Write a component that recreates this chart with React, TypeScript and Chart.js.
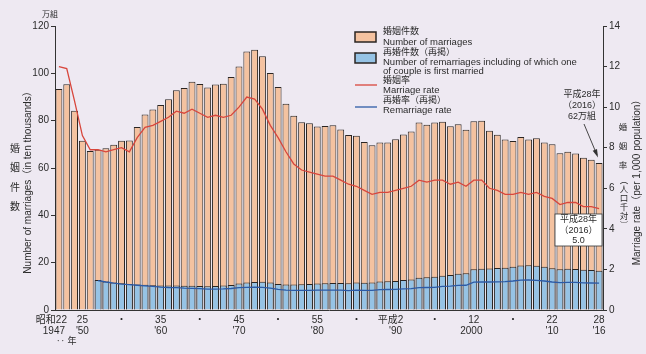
import React, { useEffect, useRef } from "react";
import { Chart, registerables } from "chart.js";

Chart.register(...registerables);

const FONT = "'Liberation Sans', 'Noto Sans CJK JP', sans-serif";

const years = [
  1947, 1948, 1949, 1950, 1951, 1952, 1953, 1954, 1955, 1956,
  1957, 1958, 1959, 1960, 1961, 1962, 1963, 1964, 1965, 1966,
  1967, 1968, 1969, 1970, 1971, 1972, 1973, 1974, 1975, 1976,
  1977, 1978, 1979, 1980, 1981, 1982, 1983, 1984, 1985, 1986,
  1987, 1988, 1989, 1990, 1991, 1992, 1993, 1994, 1995, 1996,
  1997, 1998, 1999, 2000, 2001, 2002, 2003, 2004, 2005, 2006,
  2007, 2008, 2009, 2010, 2011, 2012, 2013, 2014, 2015, 2016,
];

// 婚姻件数 (万組)
const marriages = [
  93.4, 95.4, 84.2, 71.5, 67.2, 67.7, 68.3, 69.8, 71.5, 71.6,
  77.3, 82.6, 84.7, 86.6, 89.0, 92.9, 93.8, 96.4, 95.5, 94.0,
  95.3, 95.6, 98.4, 102.9, 109.2, 110.0, 107.2, 100.1, 94.2, 87.2,
  82.1, 79.3, 78.9, 77.5, 77.7, 78.1, 76.3, 73.9, 73.6, 71.0,
  69.6, 70.8, 70.8, 72.2, 74.2, 75.4, 79.2, 78.3, 79.2, 79.5,
  77.6, 78.5, 76.2, 79.8, 80.0, 75.7, 74.0, 72.0, 71.4, 73.1,
  72.0, 72.6, 70.8, 70.0, 66.2, 66.9, 66.1, 64.3, 63.5, 62.1,
];

// 再婚件数（再掲） (万組), from 1952
const remarriages = [
  null, null, null, null, null,
  12.7, 12.0, 11.6, 11.3, 11.0, 10.8, 10.7, 10.5, 10.4, 10.3,
  10.3, 10.2, 10.2, 10.1, 10.0, 10.1, 10.3, 10.6, 11.2, 11.6,
  11.8, 11.9, 11.6, 11.0, 10.8, 10.8, 10.9, 11.0, 11.2, 11.3,
  11.4, 11.4, 11.3, 11.6, 11.5, 11.6, 12.0, 12.2, 12.3, 12.7,
  12.9, 13.6, 13.8, 14.0, 14.5, 14.8, 15.3, 15.5,
  17.2, 17.4, 17.5, 17.7, 17.8, 18.3, 18.8, 18.9, 18.7, 18.3,
  17.6, 17.2, 17.4, 17.3, 17.0, 16.9, 16.6,
];

// 婚姻率 (人口千対)
const marriageRate = [
  12.0, 11.9, 10.3, 8.6, 7.9, 7.9, 7.8, 7.9, 8.0, 7.8,
  8.5, 9.0, 9.1, 9.3, 9.5, 9.8, 9.7, 9.9, 9.7, 9.5,
  9.6, 9.5, 9.6, 10.0, 10.5, 10.4, 9.9, 9.1, 8.5, 7.8,
  7.2, 6.9, 6.8, 6.7, 6.6, 6.6, 6.4, 6.2, 6.1, 5.9,
  5.7, 5.8, 5.8, 5.9, 6.0, 6.1, 6.4, 6.3, 6.4, 6.4,
  6.2, 6.3, 6.1, 6.4, 6.4, 6.0, 5.9, 5.7, 5.7, 5.8,
  5.7, 5.8, 5.6, 5.5, 5.2, 5.3, 5.3, 5.1, 5.1, 5.0,
];

// 再婚率（再掲） (人口千対), from 1952
const remarriageRate = [
  null, null, null, null, null,
  1.45, 1.38, 1.32, 1.28, 1.25, 1.22, 1.19, 1.16, 1.13, 1.11,
  1.10, 1.08, 1.07, 1.05, 1.03, 1.03, 1.04, 1.06, 1.10, 1.12,
  1.13, 1.12, 1.08, 1.02, 0.98, 0.97, 0.97, 0.97, 0.98, 0.98,
  0.98, 0.98, 0.96, 0.98, 0.97, 0.97, 1.00, 1.01, 1.02, 1.04,
  1.05, 1.10, 1.11, 1.12, 1.16, 1.18, 1.21, 1.22,
  1.37, 1.38, 1.38, 1.39, 1.40, 1.43, 1.47, 1.48, 1.46, 1.43,
  1.38, 1.35, 1.36, 1.36, 1.34, 1.33, 1.32,
];

const SP = "\u2002";
const xLabelTop: Record<number, string> = {
  1947: "昭和22" + SP + SP + SP, 1950: "25", 1955: "・", 1960: "35", 1965: "・", 1970: "45",
  1975: "・", 1980: "55", 1985: "・", 1990: "平成2" + SP + SP, 1995: "・", 2000: "12",
  2005: "・", 2010: "22", 2016: "28",
};
const xLabelBottom: Record<number, string> = {
  1947: "1947" + SP + SP, 1950: "'50", 1960: "'60", 1970: "'70", 1980: "'80",
  1990: "'90", 2000: "2000" + SP, 2010: "'10", 2016: "'16",
};

const BG = "#EEE9F2";
const ORANGE = "#F4C2A0";
const BLUE = "#96C3E5";
const RED = "#D8463C";
const NAVY = "#2D5BA6";
const DARK = "#2a2522";
const TEXT = "#2b2b2b";

const bgPlugin = {
  id: "bg",
  beforeDraw(chart: any) {
    const ctx = chart.ctx;
    ctx.save();
    ctx.fillStyle = BG;
    ctx.fillRect(0, 0, chart.width, chart.height);
    ctx.restore();
  },
};

const overlayPlugin = {
  id: "overlay",
  afterDraw(chart: any) {
    const ctx = chart.ctx as CanvasRenderingContext2D;
    const f = (s: number, w = "normal") => `${w} ${s}px ${FONT}`;
    ctx.save();
    ctx.fillStyle = TEXT;
    ctx.textBaseline = "middle";

    // --- legend ---
    const lx = 355, tx = 383;
    ctx.fillStyle = ORANGE;
    ctx.fillRect(lx, 32, 21, 10);
    ctx.strokeStyle = DARK;
    ctx.lineWidth = 1.5;
    ctx.strokeRect(lx, 32, 21, 10);
    ctx.fillStyle = BLUE;
    ctx.fillRect(lx, 53, 21, 10);
    ctx.strokeRect(lx, 53, 21, 10);
    ctx.lineWidth = 1.3;
    ctx.strokeStyle = RED;
    ctx.beginPath(); ctx.moveTo(lx, 85); ctx.lineTo(lx + 22, 85); ctx.stroke();
    ctx.strokeStyle = NAVY;
    ctx.beginPath(); ctx.moveTo(lx, 107); ctx.lineTo(lx + 22, 107); ctx.stroke();

    ctx.fillStyle = TEXT;
    ctx.textAlign = "left";
    const legendText: [string, number][] = [
      ["婚姻件数", 32],
      ["Number of marriages", 42],
      ["再婚件数（再掲）", 53],
      ["Number of remarriages including of which one", 62.5],
      ["of couple is first married", 71.5],
      ["婚姻率", 81],
      ["Marriage rate", 90.5],
      ["再婚率（再掲）", 101],
      ["Remarriage rate", 110.5],
    ];
    for (const [t, y] of legendText) {
      const cjk = /[^\x00-\x7F]/.test(t);
      ctx.font = cjk ? f(9) : f(9.5);
      ctx.fillText(t, tx, y);
    }

    // --- left axis title ---
    ctx.textAlign = "center";
    ctx.font = f(10);
    const leftChars: [string, number][] = [["婚", 149], ["姻", 168], ["件", 188], ["数", 207]];
    for (const [c, y] of leftChars) ctx.fillText(c, 15, y);
    ctx.save();
    ctx.translate(28, 180);
    ctx.rotate(-Math.PI / 2);
    ctx.font = f(10);
    ctx.fillText("Number of marriages（in ten thousands）", 0, 0);
    ctx.restore();
    ctx.font = f(8);
    ctx.fillText("万組", 50, 15);

    // --- right axis title ---
    const rightChars: [string, number, number][] = [
      ["婚", 623, 128], ["姻", 623, 147], ["率", 623, 166],
      ["︵", 624, 181], ["人", 624, 190], ["口", 624, 199],
      ["千", 624, 208], ["対", 624, 217], ["︶", 624, 226],
    ];
    ctx.font = f(8.5);
    for (const [c, x, y] of rightChars) ctx.fillText(c, x, y);
    ctx.save();
    ctx.translate(637, 180);
    ctx.rotate(-Math.PI / 2);
    ctx.font = f(10);
    ctx.fillText("Marriage rate（per 1,000 population）", 0, 0);
    ctx.restore();

    // --- x "‥年" ---
    ctx.font = f(9);
    ctx.textAlign = "left";
    ctx.fillText("‥ 年", 56, 342);

    // --- annotation 62万組 ---
    ctx.textAlign = "center";
    ctx.font = f(9);
    ctx.fillText("平成28年", 582, 95);
    ctx.fillText("（2016）", 582, 106);
    ctx.fillText("62万組", 582, 117);
    ctx.strokeStyle = "#333";
    ctx.lineWidth = 0.9;
    const x0 = 584, y0 = 124, x1 = 597, y1 = 155;
    ctx.beginPath(); ctx.moveTo(x0, y0); ctx.lineTo(x1, y1); ctx.stroke();
    const ang = Math.atan2(y1 - y0, x1 - x0);
    ctx.fillStyle = "#333";
    ctx.beginPath();
    ctx.moveTo(x1 + 1, y1 + 2.5);
    ctx.lineTo(x1 - 6 * Math.cos(ang - 0.4), y1 - 6 * Math.sin(ang - 0.4));
    ctx.lineTo(x1 - 6 * Math.cos(ang + 0.4), y1 - 6 * Math.sin(ang + 0.4));
    ctx.closePath();
    ctx.fill();

    // --- annotation box 5.0 ---
    ctx.fillStyle = "#ffffff";
    ctx.fillRect(555, 214, 47, 32);
    ctx.strokeStyle = "#333";
    ctx.lineWidth = 0.8;
    ctx.strokeRect(555, 214, 47, 32);
    ctx.fillStyle = TEXT;
    ctx.font = f(9);
    ctx.fillText("平成28年", 578.5, 220);
    ctx.fillText("（2016）", 578.5, 230.5);
    ctx.fillText("5.0", 578.5, 241);

    ctx.restore();
  },
};

export default function App() {
  const ref = useRef<HTMLCanvasElement | null>(null);

  useEffect(() => {
    document.body.style.margin = "0";
    document.body.style.background = BG;
    const canvas = ref.current;
    if (!canvas) return;
    const tickFont = { family: FONT, size: 10 };
    const chart = new Chart(canvas, {
      data: {
        labels: years.map(String),
        datasets: [
          {
            type: "line", label: "婚姻率", data: marriageRate, yAxisID: "yR",
            borderColor: RED, borderWidth: 1.3, pointRadius: 0, tension: 0, order: 0,
          },
          {
            type: "line", label: "再婚率（再掲）", data: remarriageRate, yAxisID: "yR",
            borderColor: NAVY, borderWidth: 1.3, pointRadius: 0, tension: 0, order: 0,
          },
          {
            type: "bar", label: "再婚件数（再掲）", data: remarriages, yAxisID: "yL",
            backgroundColor: BLUE, borderColor: DARK, borderWidth: 1,
            barPercentage: 0.88, categoryPercentage: 1, grouped: false, order: 1,
          },
          {
            type: "bar", label: "婚姻件数", data: marriages, yAxisID: "yL",
            backgroundColor: ORANGE, borderColor: DARK, borderWidth: 1,
            barPercentage: 0.88, categoryPercentage: 1, grouped: false, order: 2,
          },
        ] as any,
      },
      options: {
        responsive: false,
        animation: false,
        layout: { padding: { top: 26, left: 0, right: 0, bottom: 0 } },
        plugins: { legend: { display: false }, tooltip: { enabled: false } },
        scales: {
          x: {
            grid: { display: false, drawTicks: false },
            border: { display: true, color: "#333", width: 1 },
            ticks: {
              autoSkip: false, maxRotation: 0, minRotation: 0, padding: 5,
              font: { ...tickFont, lineHeight: 1.05 } as any, color: TEXT,
              callback: (_v: any, i: number) => {
                const y = years[i];
                const t = xLabelTop[y];
                const b = xLabelBottom[y];
                if (!t && !b) return "";
                return b ? [t, b] : [t];
              },
            },
            afterFit: (s: any) => { s.height = 44; },
          },
          yL: {
            position: "left", min: 0, max: 120,
            ticks: { stepSize: 20, font: tickFont, color: TEXT, padding: 2 },
            grid: { drawOnChartArea: false, tickLength: 4, color: "#333" },
            border: { display: true, color: "#333", width: 1 },
            afterFit: (s: any) => { s.width = 55; },
          },
          yR: {
            position: "right", min: 0, max: 14,
            ticks: { stepSize: 2, font: tickFont, color: TEXT, padding: 2 },
            grid: { drawOnChartArea: false, tickLength: 4, color: "#333" },
            border: { display: true, color: "#333", width: 1 },
            afterFit: (s: any) => { s.width = 43; },
          },
        },
      } as any,
      plugins: [bgPlugin, overlayPlugin],
    });
    return () => chart.destroy();
  }, []);

  return (
    <canvas
      ref={ref}
      width={646}
      height={354}
      style={{ display: "block", width: 646, height: 354 }}
    />
  );
}
